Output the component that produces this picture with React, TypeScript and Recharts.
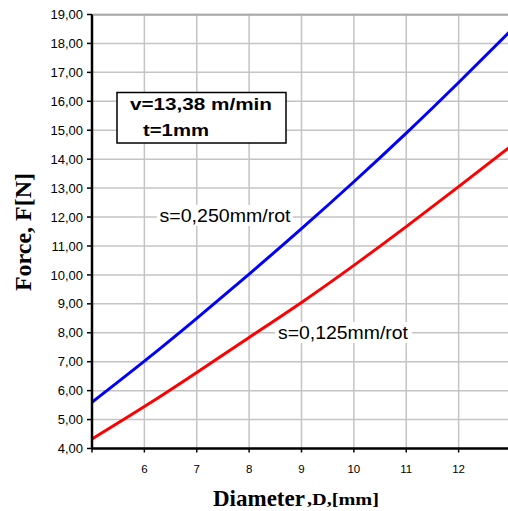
import React from 'react';
import { LineChart, Line, XAxis, YAxis, CartesianGrid } from 'recharts';

const diameters = [5, 6, 7, 8, 9, 10, 11, 12, 13];
const forceS250 = [5.6, 7.02, 8.5, 10.03, 11.6, 13.22, 14.9, 16.65, 18.45];
const forceS125 = [4.33, 5.45, 6.63, 7.84, 9.05, 10.33, 11.67, 13.05, 14.45];
const xTicks = [5, 6, 7, 8, 9, 10, 11, 12, 13];
const yTicks = [4, 5, 6, 7, 8, 9, 10, 11, 12, 13, 14, 15, 16, 17, 18, 19];
const seriesLabels = ['s=0,250mm/rot', 's=0,125mm/rot'];
const boxLines = ['v=13,38 m/min', 't=1mm'];
const xTitle = ['Diameter', ',D,[mm]'];
const yTitle = 'Force, F[N]';

const data = diameters.map((d, i) => ({ d, s250: forceS250[i], s125: forceS125[i] }));

const sans = '"Liberation Sans", Arial, sans-serif';
const serif = '"Liberation Serif", "Times New Roman", serif';

export default function App() {
  return (
    <div style={{ position: 'fixed', left: 0, top: 0, width: 508, height: 511, overflow: 'hidden', background: '#fff' }}>
      <div style={{ position: 'absolute', left: 0, top: 0, width: 520, height: 511 }}>
        <LineChart width={520} height={511} data={data} margin={{ top: 14.5, right: 9, left: 0, bottom: 32.5 }}>
          <CartesianGrid stroke="#c4c4c4" strokeWidth={1.5} horizontalValues={yTicks} verticalValues={xTicks} />
          <XAxis
            dataKey="d"
            type="number"
            domain={[5, 13]}
            ticks={xTicks}
            interval={0}
            height={30}
            tickSize={4}
            tickMargin={12}
            axisLine={{ stroke: '#000', strokeWidth: 2.5 }}
            tickLine={{ stroke: '#000', strokeWidth: 1.5 }}
            tick={{ fontSize: 11.5, fill: '#000', fontFamily: sans }}
            tickFormatter={(v: number) => (v === 5 || v === 13 ? '' : String(v))}
          />
          <YAxis
            type="number"
            domain={[4, 19]}
            ticks={yTicks}
            interval={0}
            width={92}
            tickSize={5}
            tickMargin={4}
            axisLine={{ stroke: '#000', strokeWidth: 2.5 }}
            tickLine={{ stroke: '#000', strokeWidth: 1.5 }}
            tick={{ fontSize: 13, fill: '#000', fontFamily: sans }}
            tickFormatter={(v: number) => v.toFixed(2).replace('.', ',')}
          />
          <Line type="natural" dataKey="s250" stroke="#0000ff" strokeWidth={3} dot={false} isAnimationActive={false} />
          <Line type="natural" dataKey="s125" stroke="#ff0000" strokeWidth={3} dot={false} isAnimationActive={false} />
        </LineChart>
      </div>
      <svg width={508} height={511} style={{ position: 'absolute', left: 0, top: 0, pointerEvents: 'none' }}>
        <line x1={93} y1={14.7} x2={508} y2={14.7} stroke="#a8a8a8" strokeWidth={2} />
        <rect x={117} y={92.5} width={169} height={50.5} fill="#fff" stroke="#000" strokeWidth={1.5} />
        <text x={130} y={110} fontFamily={sans} fontWeight="bold" fontSize={16} textLength={142} lengthAdjust="spacingAndGlyphs">{boxLines[0]}</text>
        <text x={143} y={135.5} fontFamily={sans} fontWeight="bold" fontSize={16} textLength={66} lengthAdjust="spacingAndGlyphs">{boxLines[1]}</text>

        <rect x={157} y={205} width={136} height={21} fill="#fff" />
        <text x={159.5} y={221.5} fontFamily={sans} fontSize={19} textLength={131} lengthAdjust="spacingAndGlyphs">{seriesLabels[0]}</text>
        <rect x={275} y={322} width={137} height={21} fill="#fff" />
        <text x={278} y={339} fontFamily={sans} fontSize={19} textLength={130} lengthAdjust="spacingAndGlyphs">{seriesLabels[1]}</text>

        <text x={213} y={506} fontFamily={serif} fontWeight="bold" fontSize={23}>{xTitle[0]}</text>
        <text x={307} y={505} fontFamily={serif} fontWeight="bold" fontSize={16} textLength={72} lengthAdjust="spacingAndGlyphs">{xTitle[1]}</text>

        <text x={31} y={232} fontFamily={serif} fontWeight="bold" fontSize={24} textAnchor="middle" transform="rotate(-90 31 232)">{yTitle}</text>
      </svg>
    </div>
  );
}
